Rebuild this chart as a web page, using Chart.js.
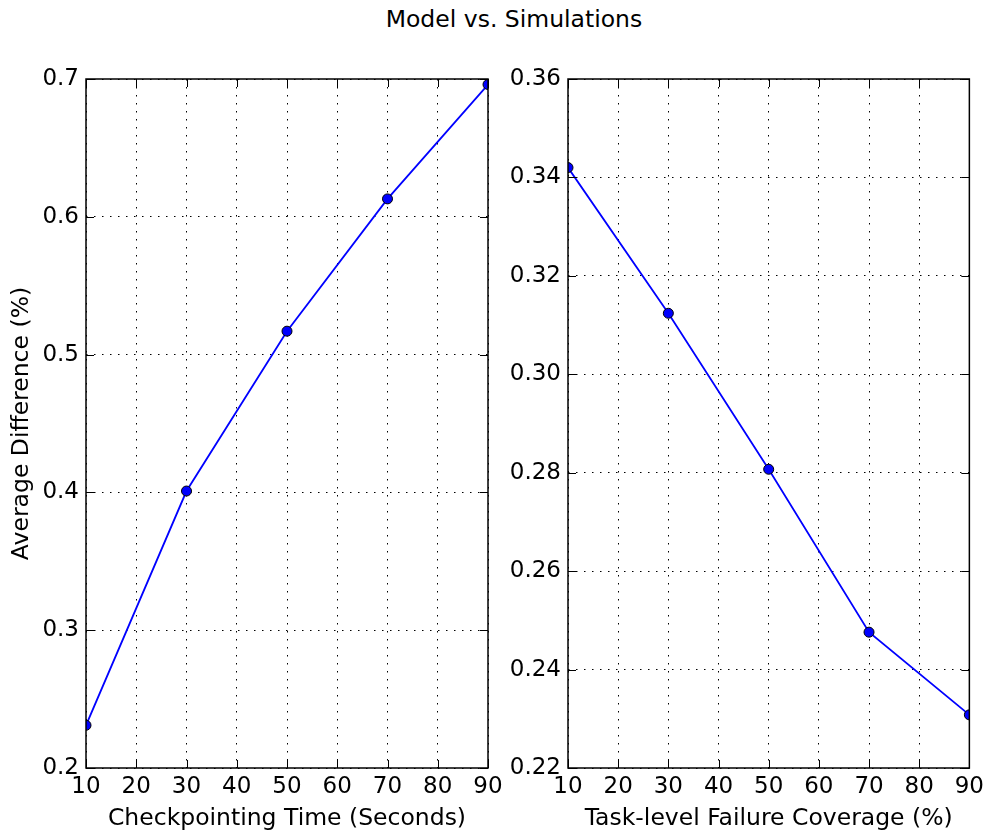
<!DOCTYPE html>
<html>
<head>
<meta charset="utf-8">
<script src="https://cdn.jsdelivr.net/npm/chart.js@4"></script>
<style>
  body { margin: 0; background: #fff; width: 989px; height: 831px; position: relative; overflow: hidden; }
  #title { position: absolute; left: 314px; width: 400px; top: 8px; line-height: 23px; text-align: center;
           font-family: "DejaVu Sans"; font-size: 23.5px; color: #000; }
  canvas { position: absolute; top: 0; }
</style>
</head>
<body>
<div id="title">Model vs. Simulations</div>
<canvas id="leftChart" width="510" height="831" style="left:0"></canvas>
<canvas id="rightChart" width="495" height="831" style="left:494px"></canvas>
<script>
// Average difference between model and simulations
const checkpointTimes = [10, 30, 50, 70, 90];
const diffByCheckpoint = [0.231, 0.401, 0.517, 0.613, 0.696];

const coverageLevels = [10, 30, 50, 70, 90];
const diffByCoverage = [0.342, 0.3124, 0.2807, 0.2476, 0.2308];

// Tick values and labels
const xTicks = [10, 20, 30, 40, 50, 60, 70, 80, 90];
const xTickLabels = ['10', '20', '30', '40', '50', '60', '70', '80', '90'];
const leftYTicks = [0.2, 0.3, 0.4, 0.5, 0.6, 0.7];
const leftYTickLabels = ['0.2', '0.3', '0.4', '0.5', '0.6', '0.7'];
const rightYTicks = [0.22, 0.24, 0.26, 0.28, 0.30, 0.32, 0.34, 0.36];
const rightYTickLabels = ['0.22', '0.24', '0.26', '0.28', '0.30', '0.32', '0.34', '0.36'];

const FONT = 'DejaVu Sans';
const TICK_SIZE = 23;
const LABEL_SIZE = 23.5;

// Frame around the plot area and inward tick marks on all four sides
const frameTicks = {
  id: 'frameTicks',
  afterDraw(chart) {
    const { ctx, chartArea: a, scales: { x, y } } = chart;
    const L = 8;
    ctx.save();
    ctx.strokeStyle = '#000';
    ctx.lineWidth = 1;
    ctx.beginPath();
    x.ticks.forEach(t => {
      const px = Math.round(x.getPixelForValue(t.value)) + 0.5;
      ctx.moveTo(px, a.bottom); ctx.lineTo(px, a.bottom - L);
      ctx.moveTo(px, a.top); ctx.lineTo(px, a.top + L);
    });
    y.ticks.forEach(t => {
      const py = Math.round(y.getPixelForValue(t.value)) + 0.5;
      ctx.moveTo(a.left, py); ctx.lineTo(a.left + L, py);
      ctx.moveTo(a.right, py); ctx.lineTo(a.right - L, py);
    });
    ctx.stroke();
    ctx.lineWidth = 1.5;
    ctx.strokeRect(a.left, a.top, a.right - a.left, a.bottom - a.top);
    ctx.restore();
  }
};

function makeChart(canvasId, xs, ys, opts) {
  return new Chart(document.getElementById(canvasId), {
    type: 'line',
    data: {
      datasets: [{
        data: xs.map((v, i) => ({ x: v, y: ys[i] })),
        borderColor: '#0000ff',
        borderWidth: 1.8,
        backgroundColor: '#0000ff',
        pointRadius: 5,
        pointHoverRadius: 5,
        pointBackgroundColor: '#0000ff',
        pointBorderColor: '#000',
        pointBorderWidth: 1,
        tension: 0,
        fill: false,
        clip: 0
      }]
    },
    options: {
      responsive: false,
      animation: false,
      devicePixelRatio: 1,
      layout: { padding: { left: 0, right: opts.padRight, top: 79, bottom: 0 } },
      plugins: { legend: { display: false }, tooltip: { enabled: false }, title: { display: false } },
      scales: {
        x: {
          type: 'linear',
          min: 10, max: 90,
          afterBuildTicks: s => { s.ticks = xTicks.map(v => ({ value: v })); },
          afterFit: s => { s.height = 63; },
          ticks: {
            callback: (v, i) => xTickLabels[i],
            color: '#000', font: { family: FONT, size: TICK_SIZE }, padding: 5,
            autoSkip: false, maxRotation: 0
          },
          title: { display: true, text: opts.xTitle, color: '#000', font: { family: FONT, size: LABEL_SIZE }, padding: { top: 0, bottom: -2 } },
          grid: { color: '#000', lineWidth: 1, drawTicks: false },
          border: { display: false, dash: [1.5, 6.5] }
        },
        y: {
          type: 'linear',
          min: opts.yTicks[0], max: opts.yTicks[opts.yTicks.length - 1],
          afterBuildTicks: s => { s.ticks = opts.yTicks.map(v => ({ value: v })); },
          afterFit: s => { s.width = opts.yWidth; },
          ticks: {
            callback: (v, i) => opts.yLabels[i],
            color: '#000', font: { family: FONT, size: TICK_SIZE }, padding: 7, autoSkip: false
          },
          title: { display: !!opts.yTitle, text: opts.yTitle || '', color: '#000', font: { family: FONT, size: LABEL_SIZE }, padding: { top: 8, bottom: 0 } },
          grid: { color: '#000', lineWidth: 1, drawTicks: false },
          border: { display: false, dash: [1.5, 6.5] }
        }
      }
    },
    plugins: [frameTicks]
  });
}

makeChart('leftChart', checkpointTimes, diffByCheckpoint, {
  padRight: 22, yWidth: 86,
  yTicks: leftYTicks, yLabels: leftYTickLabels,
  xTitle: 'Checkpointing Time (Seconds)', yTitle: 'Average Difference (%)'
});

makeChart('rightChart', coverageLevels, diffByCoverage, {
  padRight: 18, yWidth: 74,
  yTicks: rightYTicks, yLabels: rightYTickLabels,
  xTitle: 'Task-level Failure Coverage (%)'
});
</script>
</body>
</html>
